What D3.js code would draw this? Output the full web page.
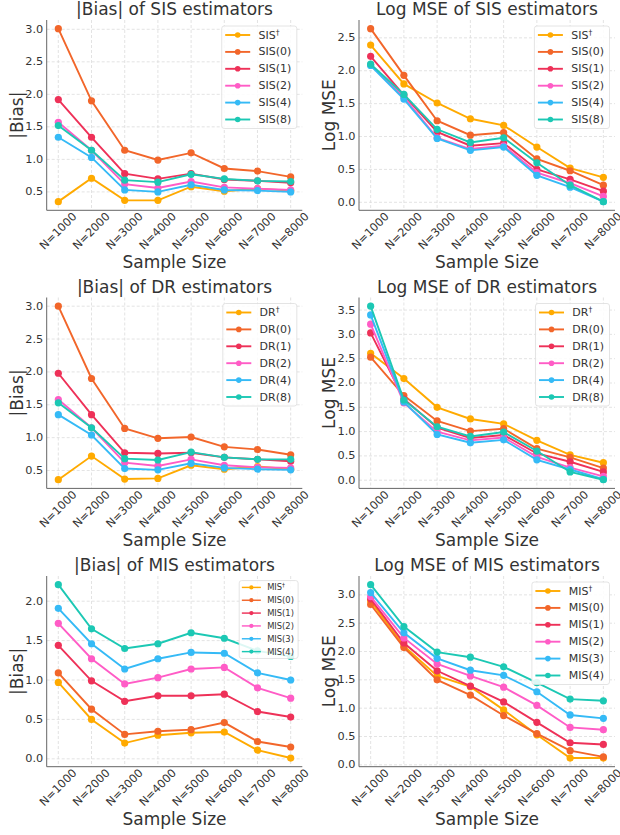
<!DOCTYPE html>
<html>
<head>
<meta charset="utf-8">
<script src="https://cdn.jsdelivr.net/npm/d3@7"></script>
<style>
  body { margin: 0; background: #fff; }
  text { font-family: "DejaVu Sans", sans-serif; fill: #333; }
</style>
</head>
<body>
<svg id="fig" width="620" height="835"></svg>
<script>
// x categories
const sampleSizes = ["N=1000", "N=2000", "N=3000", "N=4000", "N=5000", "N=6000", "N=7000", "N=8000"];

// series colours (same order in every panel)
const seriesColors = ["#FFAA00", "#F2662A", "#EE3158", "#FF5CC6", "#35BAF6", "#1CC8B4"];

const sisNames = ["SIS†", "SIS(0)", "SIS(1)", "SIS(2)", "SIS(4)", "SIS(8)"];
const drNames = ["DR†", "DR(0)", "DR(1)", "DR(2)", "DR(4)", "DR(8)"];
const misNames = ["MIS†", "MIS(0)", "MIS(1)", "MIS(2)", "MIS(3)", "MIS(4)"];

// |Bias| of SIS estimators
const sisBias = [
  [0.35, 0.71, 0.37, 0.37, 0.58, 0.51, 0.55, 0.52],
  [3.01, 1.90, 1.14, 0.99, 1.10, 0.86, 0.82, 0.73],
  [1.92, 1.34, 0.78, 0.70, 0.78, 0.69, 0.67, 0.64],
  [1.57, 1.14, 0.62, 0.56, 0.66, 0.57, 0.55, 0.53],
  [1.34, 1.03, 0.53, 0.50, 0.61, 0.53, 0.52, 0.50],
  [1.52, 1.14, 0.68, 0.65, 0.77, 0.70, 0.67, 0.66]
];

// Log MSE of SIS estimators
const sisMse = [
  [2.39, 1.80, 1.51, 1.27, 1.17, 0.84, 0.52, 0.38],
  [2.64, 1.93, 1.24, 1.02, 1.06, 0.66, 0.48, 0.26],
  [2.22, 1.63, 1.07, 0.86, 0.90, 0.50, 0.35, 0.17],
  [2.09, 1.60, 0.98, 0.81, 0.86, 0.45, 0.29, 0.09],
  [2.08, 1.57, 0.97, 0.79, 0.84, 0.41, 0.23, 0.01],
  [2.10, 1.64, 1.11, 0.91, 0.98, 0.60, 0.26, 0.01]
];

// |Bias| of DR estimators
const drBias = [
  [0.36, 0.72, 0.37, 0.38, 0.58, 0.52, 0.56, 0.52],
  [3.00, 1.90, 1.14, 0.99, 1.01, 0.86, 0.82, 0.74],
  [1.98, 1.35, 0.77, 0.76, 0.77, 0.70, 0.67, 0.64],
  [1.58, 1.15, 0.62, 0.57, 0.67, 0.58, 0.55, 0.54],
  [1.35, 1.04, 0.53, 0.51, 0.61, 0.54, 0.52, 0.51],
  [1.53, 1.15, 0.68, 0.66, 0.78, 0.70, 0.67, 0.67]
];

// Log MSE of DR estimators
const drMse = [
  [2.61, 2.09, 1.50, 1.26, 1.16, 0.82, 0.52, 0.36],
  [2.53, 1.74, 1.22, 1.01, 1.06, 0.65, 0.47, 0.25],
  [3.03, 1.67, 1.08, 0.87, 0.93, 0.55, 0.38, 0.17],
  [3.21, 1.59, 1.00, 0.82, 0.88, 0.48, 0.26, 0.08],
  [3.40, 1.61, 0.94, 0.77, 0.83, 0.42, 0.22, 0.02],
  [3.58, 1.65, 1.10, 0.90, 0.99, 0.60, 0.17, 0.01]
];

// |Bias| of MIS estimators
const misBias = [
  [0.97, 0.50, 0.20, 0.30, 0.33, 0.34, 0.11, 0.01],
  [1.09, 0.63, 0.31, 0.35, 0.37, 0.46, 0.22, 0.15],
  [1.44, 0.99, 0.73, 0.80, 0.80, 0.82, 0.60, 0.53],
  [1.72, 1.27, 0.95, 1.03, 1.14, 1.16, 0.90, 0.77],
  [1.91, 1.46, 1.14, 1.27, 1.35, 1.34, 1.09, 1.00],
  [2.21, 1.65, 1.40, 1.46, 1.60, 1.53, 1.37, 1.30]
];

// Log MSE of MIS estimators
const misMse = [
  [2.89, 2.10, 1.57, 1.38, 0.97, 0.53, 0.12, 0.12],
  [2.83, 2.07, 1.50, 1.23, 0.87, 0.55, 0.25, 0.14],
  [2.93, 2.15, 1.66, 1.39, 1.11, 0.75, 0.39, 0.36],
  [2.97, 2.24, 1.78, 1.57, 1.37, 1.05, 0.66, 0.62],
  [3.04, 2.33, 1.88, 1.67, 1.58, 1.29, 0.88, 0.82],
  [3.18, 2.44, 1.99, 1.90, 1.73, 1.45, 1.16, 1.13]
];

/* grid of axes boxes */
const colLeft = [46.7, 359], colRight = [302.3, 615];
const rowTop = [20, 297.5, 576], rowBottom = [210.3, 488.4, 766.7];

const panels = [
  { title: "|Bias| of SIS estimators", ylabel: "|Bias|", names: sisNames, values: sisBias, row: 0, col: 0, legendScale: 1 },
  { title: "Log MSE of SIS estimators", ylabel: "Log MSE", names: sisNames, values: sisMse, row: 0, col: 1, legendScale: 1 },
  { title: "|Bias| of DR estimators", ylabel: "|Bias|", names: drNames, values: drBias, row: 1, col: 0, legendScale: 1 },
  { title: "Log MSE of DR estimators", ylabel: "Log MSE", names: drNames, values: drMse, row: 1, col: 1, legendScale: 1 },
  { title: "|Bias| of MIS estimators", ylabel: "|Bias|", names: misNames, values: misBias, row: 2, col: 0, legendScale: 0.76 },
  { title: "Log MSE of MIS estimators", ylabel: "Log MSE", names: misNames, values: misMse, row: 2, col: 1, legendScale: 1 }
];

const svg = d3.select("#fig");

function addLabel(sel, name) {
  // dagger drawn as superscript
  if (name.endsWith("†")) {
    sel.text(name.slice(0, -1));
    sel.append("tspan").attr("font-size", "0.7em").attr("dy", "-0.45em").text("†");
  } else {
    sel.text(name);
  }
}

function drawPanel(p) {
  const left = colLeft[p.col], right = colRight[p.col];
  const top = rowTop[p.row], bottom = rowBottom[p.row];
  const g = svg.append("g");

  const x = d3.scalePoint().domain(sampleSizes).range([left, right]).padding(0.35);

  const all = p.values.flat();
  const lo = d3.min(all), hi = d3.max(all), pad = (hi - lo) * 0.05;
  const y = d3.scaleLinear().domain([lo - pad, hi + pad]).range([bottom, top]);
  const yTicks = y.ticks(7);

  /* grid */
  g.append("g").selectAll("line.h")
    .data(yTicks).join("line")
    .attr("x1", left).attr("x2", right)
    .attr("y1", d => y(d)).attr("y2", d => y(d))
    .attr("stroke", "#dcdcdc").attr("stroke-width", 0.8).attr("stroke-dasharray", "3,2");
  g.append("g").selectAll("line.v")
    .data(sampleSizes).join("line")
    .attr("x1", d => x(d)).attr("x2", d => x(d))
    .attr("y1", top).attr("y2", bottom)
    .attr("stroke", "#dcdcdc").attr("stroke-width", 0.8).attr("stroke-dasharray", "3,2");

  /* spines */
  g.append("line").attr("x1", left).attr("x2", left).attr("y1", top).attr("y2", bottom)
    .attr("stroke", "#666").attr("stroke-width", 1);
  g.append("line").attr("x1", left).attr("x2", right).attr("y1", bottom).attr("y2", bottom)
    .attr("stroke", "#666").attr("stroke-width", 1);

  /* y tick labels */
  g.append("g").selectAll("text")
    .data(yTicks).join("text")
    .attr("x", left - 3.5).attr("y", d => y(d))
    .attr("text-anchor", "end").attr("dominant-baseline", "central")
    .attr("font-size", 11.3)
    .text(d3.format(".1f"));

  /* x tick labels, rotated 45 */
  g.append("g").selectAll("text")
    .data(sampleSizes).join("text")
    .attr("transform", d => `translate(${x(d)},${bottom + 21}) rotate(-45)`)
    .attr("text-anchor", "middle").attr("dominant-baseline", "central")
    .attr("font-size", 11.3)
    .text(d => d);

  /* lines + markers */
  const line = d3.line().x((d, i) => x(sampleSizes[i])).y(d => y(d));
  p.values.forEach((vals, k) => {
    g.append("path").datum(vals)
      .attr("d", line)
      .attr("fill", "none")
      .attr("stroke", seriesColors[k])
      .attr("stroke-width", 1.9);
    g.append("g").selectAll("circle")
      .data(vals).join("circle")
      .attr("cx", (d, i) => x(sampleSizes[i]))
      .attr("cy", d => y(d))
      .attr("r", 3.6)
      .attr("fill", seriesColors[k]);
  });

  /* titles */
  g.append("text")
    .attr("x", (left + right) / 2).attr("y", top - 5)
    .attr("text-anchor", "middle").attr("font-size", 17)
    .text(p.title);
  g.append("text")
    .attr("x", (left + right) / 2).attr("y", bottom + 58)
    .attr("text-anchor", "middle").attr("font-size", 17)
    .text("Sample Size");
  g.append("text")
    .attr("transform", `translate(${left - 30},${(top + bottom) / 2}) rotate(-90)`)
    .attr("text-anchor", "middle").attr("dominant-baseline", "central")
    .attr("font-size", 17)
    .text(p.ylabel);

  /* legend, upper right */
  const s = p.legendScale;
  const lg = g.append("g");
  const box = lg.append("rect");
  const rowH = 16.9 * s, lineLen = 25 * s, padL = 3.5 * s, gap = 8.3 * s, padR = 5.5 * s, padT = 9 * s;
  const items = lg.selectAll("g.item")
    .data(p.names).join("g")
    .attr("transform", (d, i) => `translate(0,${padT + i * rowH})`);
  items.append("line")
    .attr("x1", padL).attr("x2", padL + lineLen)
    .attr("stroke", (d, i) => seriesColors[i]).attr("stroke-width", 1.9 * s);
  items.append("circle")
    .attr("cx", padL + lineLen / 2).attr("r", 2.8 * s)
    .attr("fill", (d, i) => seriesColors[i]);
  items.append("text")
    .attr("x", padL + lineLen + gap)
    .attr("dominant-baseline", "central")
    .attr("font-size", 11 * s)
    .each(function (d) { addLabel(d3.select(this), d); });

  let maxW = 0;
  items.select("text").each(function () { maxW = Math.max(maxW, this.getBBox().width); });
  const bw = padL + lineLen + gap + maxW + padR;
  const bh = 5 * rowH + 2 * padT;
  box.attr("width", bw).attr("height", bh)
    .attr("rx", 2.5).attr("fill", "#fff").attr("fill-opacity", 0.85)
    .attr("stroke", "#dddddd").attr("stroke-width", 0.8);
  lg.attr("transform", `translate(${right - 5.5 * s - bw},${top + 6 * s})`);
}

panels.forEach(drawPanel);
</script>
</body>
</html>
